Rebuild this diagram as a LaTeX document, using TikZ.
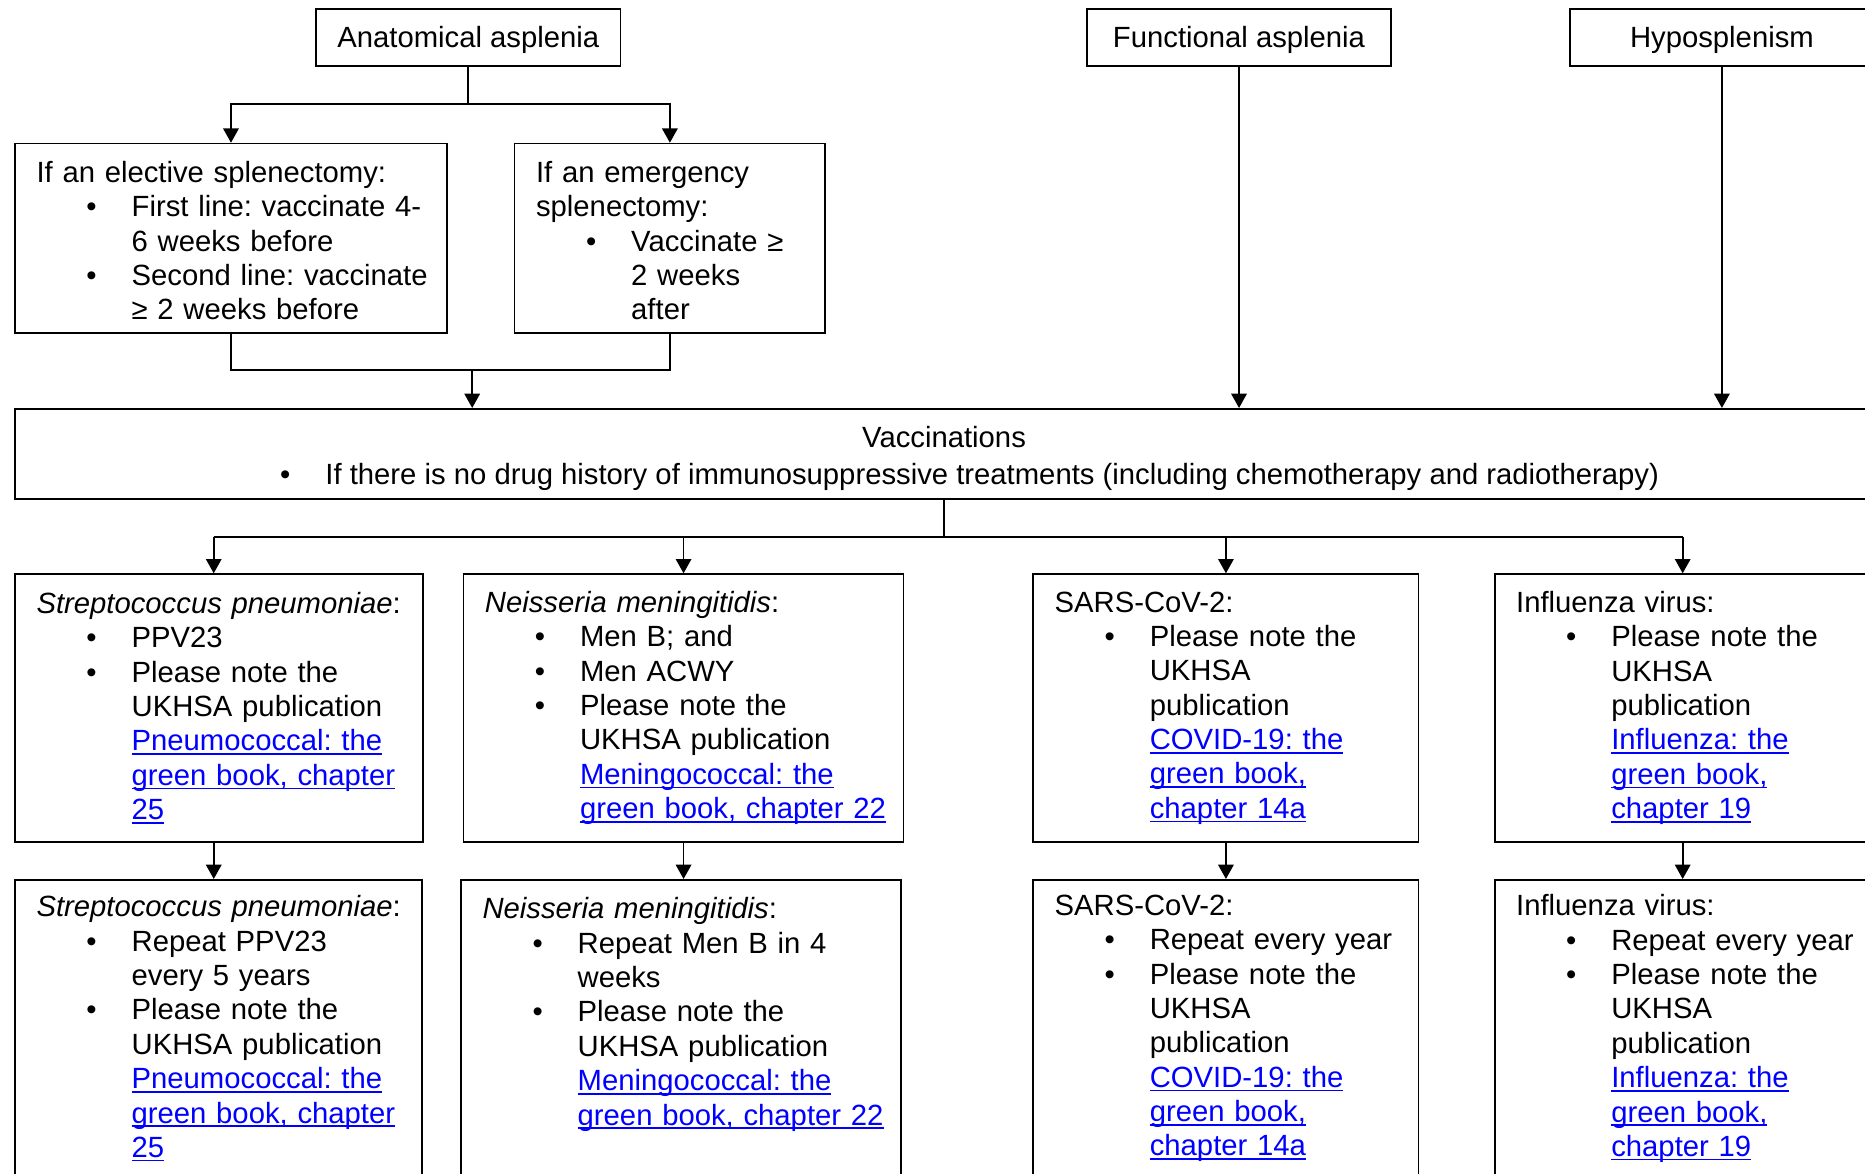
\documentclass[tikz,border=0pt]{standalone}
\usepackage{fontspec}
\setmainfont{Liberation Sans}
\usepackage{tikz}
\usetikzlibrary{arrows.meta}

\frenchspacing
\definecolor{linkblue}{RGB}{0,0,255}
\newcommand{\bhead}[1]{\mbox{#1}}
\newcommand{\bitem}[1]{\\\mbox{\hspace*{21pt}\makebox[19pt][l]{\textbullet}#1}}
\newcommand{\bcont}[1]{\\\mbox{\hspace*{40pt}#1}}
\newcommand{\blink}[1]{{\color{linkblue}\setbox0\hbox{#1}\rlap{\rule[-1.7pt]{\wd0}{0.7pt}}\box0}}

\begin{document}
\begin{tikzpicture}[x=0.5pt, y=-0.5pt,
    every node/.style={font=\fontsize{12.3}{14.45}\selectfont},
    box/.style={draw, line width=0.7pt, anchor=north west, inner xsep=9pt, inner ysep=0pt, align=left},
    topbox/.style={draw, line width=0.7pt, anchor=north west, minimum width=128pt, minimum height=24pt, inner sep=0pt},
    line/.style={line width=0.7pt},
    arr/.style={line width=0.7pt, -{Triangle[width=6.5pt,length=6pt]}}]
    \useasboundingbox (0,0) rectangle (1568,987);
    \clip (0,0) rectangle (1568,987);

    % Causes
    \node[topbox] (anat) at (265,7) {\rule{0pt}{10.5pt}Anatomical asplenia};
    \node[topbox] (func) at (913,7) {\rule{0pt}{10.5pt}Functional asplenia};
    \node[topbox] (hypo) at (1319,7) {\rule{0pt}{10.5pt}Hyposplenism};

    % Splenectomy
    \node[box, text width=163.5pt, minimum height=79.5pt] (elect) at (12,120) {%
        \bhead{\rule{0pt}{11pt}If an elective splenectomy:}
        \bitem{First line: vaccinate 4-}
        \bcont{6 weeks before}
        \bitem{Second line: vaccinate}
        \bcont{≥ 2 weeks before}};
    \node[box, text width=112.5pt, minimum height=79.5pt] (emerg) at (432,120) {%
        \bhead{\rule{0pt}{11pt}If an emergency}\\\bhead{splenectomy:}
        \bitem{Vaccinate ≥}
        \bcont{2 weeks}
        \bcont{after}};

    % Vaccinations
    \node[draw, line width=0.7pt, anchor=north west, align=center, minimum width=781pt, minimum height=38pt, inner sep=0pt] (vacc) at (12,343) {%
        \rule{0pt}{12.8pt}Vaccinations\\[1pt]
        \mbox{\hspace*{21.5pt}\makebox[19pt][l]{\textbullet}If there is no drug history of immunosuppressive treatments (including chemotherapy and radiotherapy)}};

    % First doses
    \node[box, text width=153.5pt, minimum height=112.5pt] (strepA) at (12,482) {%
        \bhead{\textit{Streptococcus pneumoniae}:}
        \bitem{PPV23}
        \bitem{Please note the}
        \bcont{UKHSA publication}
        \bcont{\blink{Pneumococcal: the}}
        \bcont{\blink{green book, chapter}}
        \bcont{\blink{25}}};
    \node[box, text width=167pt, minimum height=112.5pt] (neisA) at (389,482) {%
        \bhead{\textit{Neisseria meningitidis}:}
        \bitem{Men B; and}
        \bitem{Men ACWY}
        \bitem{Please note the}
        \bcont{UKHSA publication}
        \bcont{\blink{Meningococcal: the}}
        \bcont{\blink{green book, chapter 22}}};
    \node[box, text width=144pt, minimum height=112.5pt] (sarsA) at (868,482) {%
        \bhead{SARS-CoV-2:}
        \bitem{Please note the}
        \bcont{UKHSA}
        \bcont{publication}
        \bcont{\blink{COVID-19: the}}
        \bcont{\blink{green book,}}
        \bcont{\blink{chapter 14a}}};
    \node[box, text width=140pt, minimum height=112.5pt] (inflA) at (1256,482) {%
        \bhead{Influenza virus:}
        \bitem{Please note the}
        \bcont{UKHSA}
        \bcont{publication}
        \bcont{\blink{Influenza: the}}
        \bcont{\blink{green book,}}
        \bcont{\blink{chapter 19}}};

    % Repeat doses
    \node[box, text width=153pt, minimum height=125pt] (strepB) at (12,739) {%
        \bhead{\textit{Streptococcus pneumoniae}:}
        \bitem{Repeat PPV23}
        \bcont{every 5 years}
        \bitem{Please note the}
        \bcont{UKHSA publication}
        \bcont{\blink{Pneumococcal: the}}
        \bcont{\blink{green book, chapter}}
        \bcont{\blink{25}}};
    \node[box, text width=167pt, minimum height=125pt] (neisB) at (387,739) {%
        \bhead{\textit{Neisseria meningitidis}:}
        \bitem{Repeat Men B in 4}
        \bcont{weeks}
        \bitem{Please note the}
        \bcont{UKHSA publication}
        \bcont{\blink{Meningococcal: the}}
        \bcont{\blink{green book, chapter 22}}
        \\\mbox{}};
    \node[box, text width=144pt, minimum height=125pt] (sarsB) at (868,739) {%
        \bhead{SARS-CoV-2:}
        \bitem{Repeat every year}
        \bitem{Please note the}
        \bcont{UKHSA}
        \bcont{publication}
        \bcont{\blink{COVID-19: the}}
        \bcont{\blink{green book,}}
        \bcont{\blink{chapter 14a}}};
    \node[box, text width=140pt, minimum height=125pt] (inflB) at (1256,739) {%
        \bhead{Influenza virus:}
        \bitem{Repeat every year}
        \bitem{Please note the}
        \bcont{UKHSA}
        \bcont{publication}
        \bcont{\blink{Influenza: the}}
        \bcont{\blink{green book,}}
        \bcont{\blink{chapter 19}}};

    % Arrows into the splenectomy boxes
    \draw[line] (anat.south) -- ++(0,31) coordinate (j0);
    \draw[arr] (j0) -| (elect.north);
    \draw[arr] (j0) -| (emerg.north);

    % Arrows into vaccinations
    \coordinate (j1) at (397,311);
    \draw[line] (elect.south) |- (j1) -| (emerg.south);
    \draw[arr] (j1) -- (j1 |- vacc.north);
    \draw[arr] (func.south) -- (func.south |- vacc.north);
    \draw[arr] (hypo.south) -- (hypo.south |- vacc.north);

    % Arrows to the pathogens
    \draw[line] (vacc.south) -- ++(0,31) coordinate (j2);
    \draw[line] ([xshift=-2.25pt]strepA.north |- j2) -- (inflA.north |- j2);
    \draw[arr] ([xshift=-2.25pt]strepA.north |- j2) -- ([xshift=-2.25pt]strepA.north);
    \foreach \b in {neisA,sarsA,inflA}
        \draw[arr] (\b.north |- j2) -- (\b.north);
    \draw[arr] ([xshift=-2.25pt]strepA.south) -- ([xshift=-2.25pt]strepA.south |- strepB.north);
    \foreach \a/\b in {neisA/neisB,sarsA/sarsB,inflA/inflB}
        \draw[arr] (\a.south) -- (\a.south |- \b.north);
\end{tikzpicture}
\end{document}
